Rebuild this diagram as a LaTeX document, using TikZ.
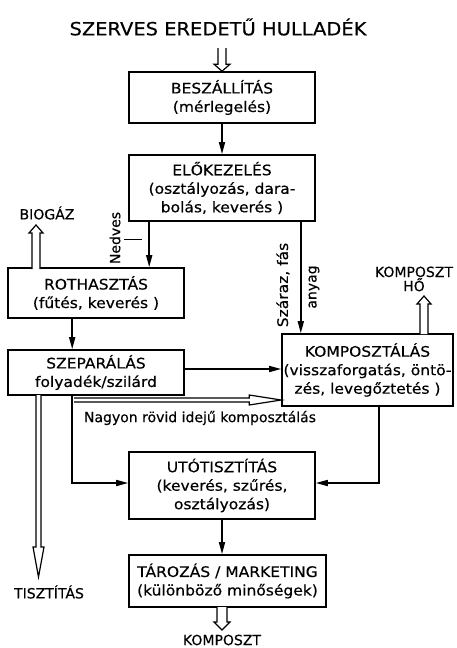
\documentclass[tikz,border=0pt]{standalone}
\usepackage{fontspec}
\setmainfont{DejaVu Sans}[FakeStretch=1.07, FakeBold=0.4]
\newfontfamily\lblfont{DejaVu Sans}[FakeBold=0.4]
\usetikzlibrary{arrows.meta,calc}
\newcommand\hollowarr[6]{\draw[hol, shift={#1}, rotate=#2] (-#4,-#3) -- (-#4,-#6) -- (-#5,-#6) -- (0,0) -- (#5,-#6) -- (#4,-#6) -- (#4,-#3);}
\begin{document}
\begin{tikzpicture}[x=1pt,y=-1pt,
  box/.style={draw, line width=1.6pt, rectangle, inner sep=0pt, align=center,
    font=\fontsize{14.5}{18.5}\selectfont},
  lbl/.style={inner sep=0pt, align=center, font=\lblfont\fontsize{14}{13}\selectfont},
  arr/.style={line width=1.6pt, -{Triangle[length=12pt,width=6pt]}},
  hol/.style={line width=1.2pt, fill=white, line join=miter}]
\useasboundingbox (0,0) rectangle (456,648);
\node[inner sep=0pt, font=\fontsize{18.2}{20}\selectfont] (title) at (218,27) {SZERVES EREDETŰ HULLADÉK};
\node[box, minimum width=186pt, minimum height=51pt] (besz) at (222,97.5) {BESZÁLLÍTÁS\\(mérlegelés)};
\node[box, minimum width=186pt, minimum height=66pt] (elo) at (222,188) {ELŐKEZELÉS\\(osztályozás, dara-\\bolás, keverés )};
\node[box, minimum width=176pt, minimum height=50pt] (roth) at (96,293) {ROTHASZTÁS\\(fűtés, keverés )};
\node[box, minimum width=176pt, minimum height=45pt] (szep) at (96,372.5) {SZEPARÁLÁS\\folyadék/szilárd};
\node[box, minimum width=171pt, minimum height=72pt] (komp) at (367.5,370) {KOMPOSZTÁLÁS\\(visszaforgatás, öntö-\\zés, levegőztetés )};
\node[box, minimum width=186pt, minimum height=67pt] (uto) at (222,485.5) {UTÓTISZTÍTÁS\\(keverés, szűrés,\\osztályozás)};
\node[box, minimum width=197pt, minimum height=52pt] (taroz) at (227.5,581) {TÁROZÁS / MARKETING\\(különböző minőségek)};

\node[lbl] (biogaz) at (47,213) {BIOGÁZ};
\node[lbl] (kho) at (414,279) {KOMPOSZT\\HŐ};
\node[lbl] (tiszt) at (49,592) {TISZTÍTÁS};
\node[lbl] (kompend) at (222,640) {KOMPOSZT};
\node[lbl] (nagyon) at (200,418) {Nagyon rövid idejű komposztálás};
\node[lbl, rotate=90] (nedves) at (115,238) {Nedves};
\node[lbl, rotate=90, font=\fontsize{14.5}{15}\selectfont] (szaraz) at (283,285) {Száraz, fás};
\node[lbl, rotate=90] (anyag) at (314,287) {anyag};

\coordinate (ktip) at (222,630);
\coordinate (btip) at (36,225);
\coordinate (htip) at (424,296);
\coordinate (ttip) at (38.5,577);

% solid arrows
\draw[arr] (besz.south) -- (elo.north);
\draw[arr] ([xshift=21pt]elo.south west) -- ([xshift=21pt]elo.south west |- roth.north);
\draw[line width=0.8pt] ($(elo.south west)+(-4,18)$) -- ++(18,0);
\draw[arr] ([xshift=-15pt]elo.south east) -- ([xshift=-15pt]elo.south east |- komp.north);
\draw[arr] ([xshift=65pt]roth.south west) -- ([xshift=65pt]roth.south west |- szep.north);
\draw[arr] ([yshift=3.5pt]szep.east) -- ([yshift=3.5pt]szep.east -| komp.west);
\draw[arr] ([xshift=65pt]szep.south west) |- ([yshift=2.5pt]uto.west);
\draw[arr] ([xshift=98pt]komp.south west) |- ([yshift=2.5pt]uto.east);
\draw[arr] (uto.south) -- (uto.south |- taroz.north);

% hollow arrows
\hollowarr{(besz.north)}{0}{23}{4}{8}{7}
\hollowarr{(ktip)}{0}{23}{5}{8}{8}
\hollowarr{(btip)}{180}{44}{4}{7}{8}
\hollowarr{(htip)}{180}{38}{4}{7}{8}
\hollowarr{(ttip)}{0}{182}{2.5}{5.5}{30}
\hollowarr{([yshift=-30pt]komp.west)}{90}{207}{2}{5}{32}
\end{tikzpicture}
\end{document}
